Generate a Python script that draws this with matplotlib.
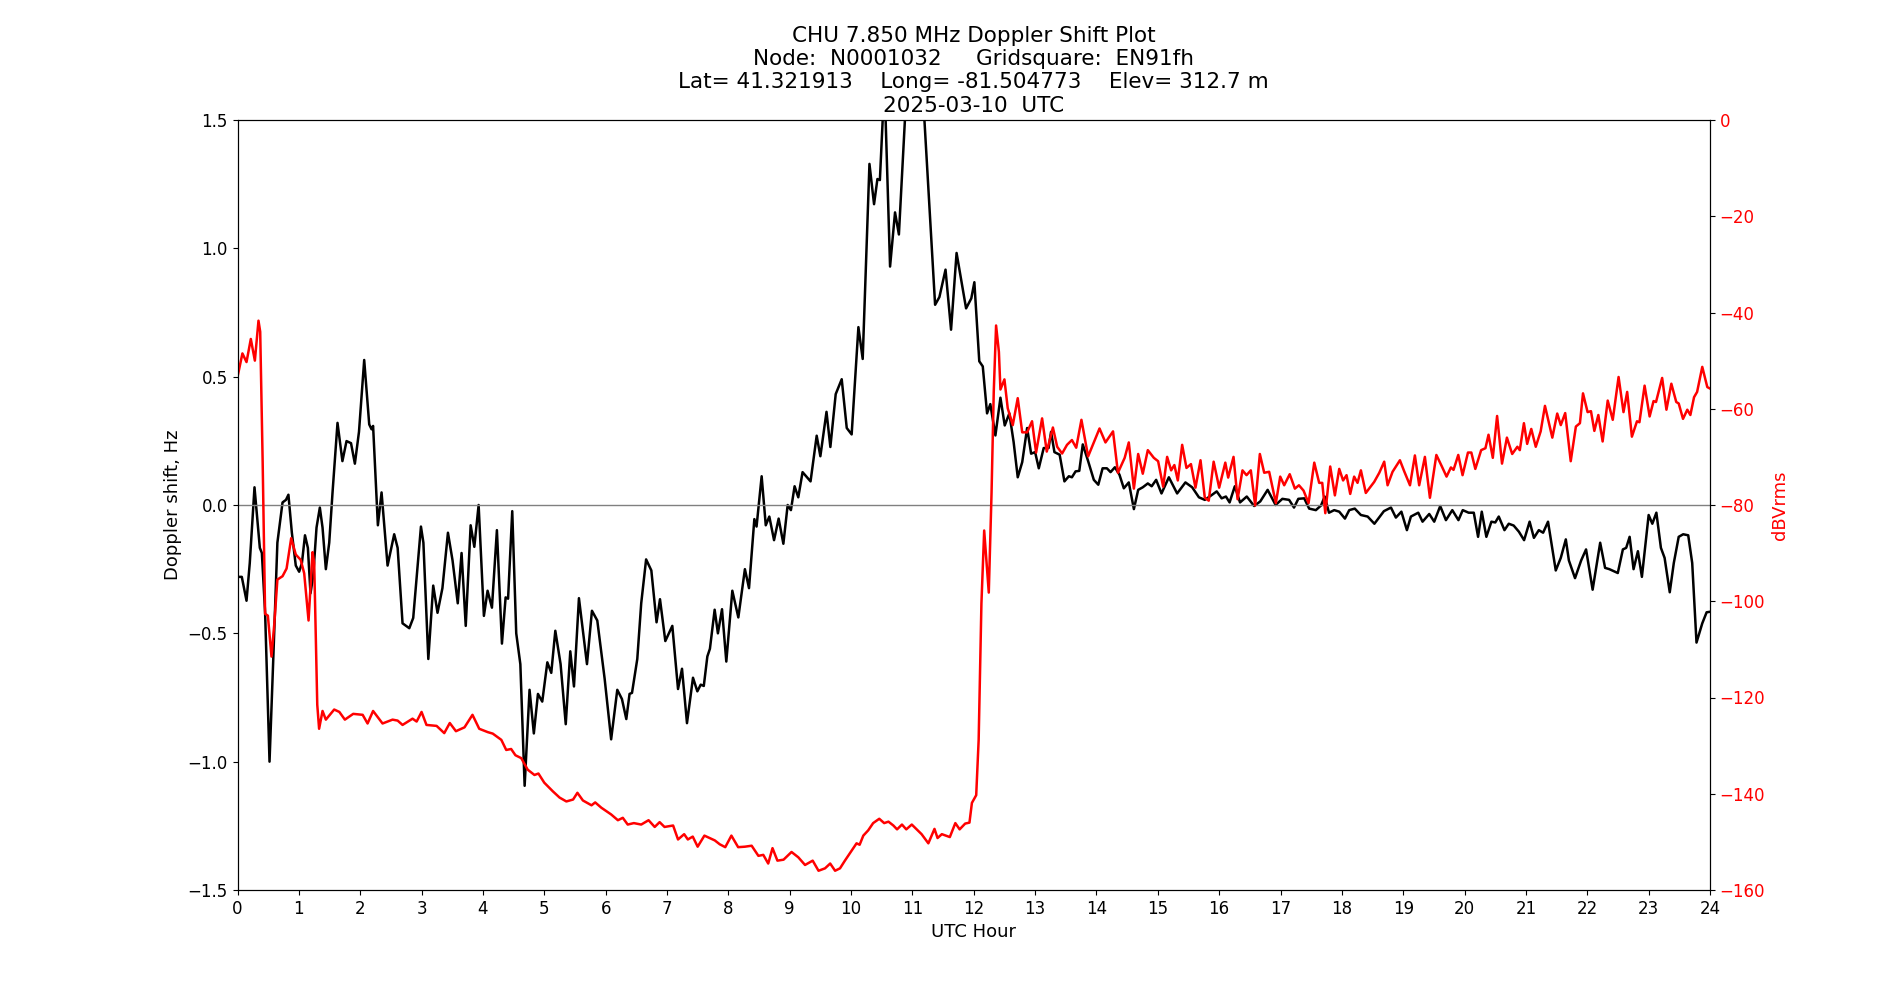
import matplotlib
matplotlib.use('Agg')
import matplotlib.pyplot as plt

# Doppler shift (black), hours UTC and Hz
doppler_hours = [0, 0.07, 0.147, 0.2, 0.277, 0.364, 0.397, 0.45, 0.522, 0.58, 0.65, 0.734, 0.79, 0.83, 0.886, 0.95,
                 1.005, 1.05, 1.10, 1.147, 1.19, 1.234, 1.288, 1.342, 1.386, 1.44, 1.495, 1.549, 1.63, 1.71, 1.777, 1.85,
                 1.913, 1.98, 2.065, 2.147, 2.185, 2.21, 2.288, 2.348, 2.446, 2.554, 2.61, 2.69, 2.80, 2.864, 2.99, 3.03,
                 3.11, 3.19, 3.26, 3.34, 3.43, 3.505, 3.59, 3.652, 3.72, 3.80, 3.86, 3.93, 4.016, 4.076, 4.147, 4.228,
                 4.31, 4.37, 4.41, 4.478, 4.543, 4.61, 4.68, 4.76, 4.83, 4.897, 4.967, 5.05, 5.114, 5.18, 5.266, 5.35,
                 5.424, 5.484, 5.565, 5.696, 5.777, 5.864, 5.984, 6.09, 6.19, 6.266, 6.337, 6.39, 6.43, 6.516, 6.58, 6.66,
                 6.745, 6.83, 6.886, 6.973, 7.087, 7.18, 7.245, 7.326, 7.424, 7.495, 7.55, 7.6, 7.658, 7.7, 7.777, 7.83,
                 7.897, 7.967, 8.065, 8.163, 8.27, 8.337, 8.424, 8.46, 8.543, 8.61, 8.668, 8.745, 8.82, 8.897, 8.967, 9.02,
                 9.08, 9.14, 9.21, 9.34, 9.44, 9.5, 9.6, 9.663, 9.75, 9.848, 9.93, 10.01, 10.12, 10.19, 10.3, 10.375,
                 10.43, 10.47, 10.545, 10.636, 10.717, 10.78, 10.9, 11.0, 11.1, 11.196, 11.37, 11.44, 11.54, 11.63, 11.72,
                 11.875, 11.96, 12.01, 12.09, 12.147, 12.217, 12.27, 12.353, 12.435, 12.505, 12.58, 12.65, 12.717, 12.79,
                 12.87, 12.935, 13.0, 13.06, 13.14, 13.22, 13.26, 13.315, 13.4, 13.478, 13.55, 13.6, 13.66, 13.72, 13.777,
                 13.864, 13.957, 14.03, 14.1, 14.17, 14.23, 14.3, 14.375, 14.446, 14.527, 14.61, 14.68, 14.755, 14.837,
                 14.9, 14.973, 15.06, 15.18, 15.315, 15.45, 15.56, 15.67, 15.766, 15.886, 15.96, 16.04, 16.11, 16.17,
                 16.255, 16.34, 16.45, 16.57, 16.67, 16.79, 16.92, 17.03, 17.14, 17.22, 17.29, 17.386, 17.467, 17.576,
                 17.66, 17.72, 17.79, 17.875, 17.957, 18.05, 18.12, 18.21, 18.31, 18.42, 18.53, 18.685, 18.8, 18.88,
                 18.97, 19.06, 19.125, 19.245, 19.315, 19.424, 19.505, 19.603, 19.696, 19.8, 19.9, 19.97, 20.066, 20.15,
                 20.22, 20.28, 20.355, 20.437, 20.5, 20.557, 20.65, 20.72, 20.8, 20.885, 20.97, 21.06, 21.13, 21.21, 21.28,
                 21.36, 21.486, 21.568, 21.65, 21.7, 21.8, 21.9, 21.98, 22.087, 22.21, 22.29, 22.36, 22.497, 22.58, 22.634,
                 22.69, 22.754, 22.825, 22.89, 23.0, 23.06, 23.126, 23.2, 23.26, 23.344, 23.41, 23.49, 23.563, 23.645,
                 23.71, 23.78, 23.874, 23.945, 24.0]
doppler_hz = [-0.28, -0.28, -0.373, -0.226, 0.069, -0.167, -0.187, -0.42, -1.0, -0.62, -0.147, 0.01, 0.02, 0.04, -0.108,
              -0.236, -0.26, -0.226, -0.118, -0.167, -0.344, -0.275, -0.088, -0.01, -0.088, -0.25, -0.147, 0.049, 0.32,
              0.171, 0.249, 0.241, 0.161, 0.285, 0.565, 0.314, 0.295, 0.308, -0.079, 0.049, -0.236, -0.114, -0.167,
              -0.461, -0.48, -0.44, -0.084, -0.147, -0.6, -0.314, -0.42, -0.324, -0.108, -0.216, -0.383, -0.187, -0.471,
              -0.079, -0.163, 0.0, -0.432, -0.334, -0.4, -0.098, -0.54, -0.36, -0.365, -0.024, -0.5, -0.62, -1.094,
              -0.72, -0.89, -0.736, -0.766, -0.613, -0.654, -0.49, -0.62, -0.854, -0.57, -0.707, -0.363, -0.62, -0.412,
              -0.45, -0.677, -0.913, -0.72, -0.756, -0.834, -0.736, -0.732, -0.6, -0.383, -0.212, -0.255, -0.457,
              -0.367, -0.53, -0.471, -0.717, -0.638, -0.85, -0.673, -0.726, -0.7, -0.705, -0.59, -0.56, -0.408, -0.5,
              -0.406, -0.61, -0.334, -0.438, -0.25, -0.324, -0.055, -0.084, 0.112, -0.079, -0.045, -0.137, -0.053,
              -0.151, 0.0, -0.02, 0.073, 0.03, 0.128, 0.092, 0.27, 0.19, 0.363, 0.226, 0.432, 0.49, 0.3, 0.275, 0.693,
              0.569, 1.329, 1.172, 1.27, 1.266, 1.65, 0.929, 1.14, 1.054, 1.6, 1.75, 1.7, 1.5, 0.78, 0.81, 0.917,
              0.683, 0.982, 0.766, 0.805, 0.868, 0.56, 0.54, 0.357, 0.393, 0.271, 0.418, 0.31, 0.357, 0.245, 0.108,
              0.167, 0.3, 0.2, 0.206, 0.143, 0.222, 0.222, 0.285, 0.206, 0.196, 0.092, 0.112, 0.108, 0.131, 0.133,
              0.236, 0.171, 0.098, 0.079, 0.143, 0.143, 0.128, 0.147, 0.118, 0.065, 0.088, -0.016, 0.059, 0.069,
              0.084, 0.073, 0.098, 0.045, 0.108, 0.045, 0.088, 0.069, 0.03, 0.02, 0.04, 0.053, 0.026, 0.033, 0.01,
              0.073, 0.01, 0.033, -0.004, 0.014, 0.059, 0.0, 0.024, 0.02, -0.01, 0.024, 0.026, -0.014, -0.02, -0.002,
              0.033, -0.03, -0.02, -0.026, -0.053, -0.02, -0.014, -0.039, -0.045, -0.073, -0.024, -0.01, -0.049,
              -0.026, -0.098, -0.045, -0.03, -0.065, -0.035, -0.065, -0.004, -0.059, -0.02, -0.059, -0.02, -0.03,
              -0.03, -0.124, -0.026, -0.124, -0.065, -0.068, -0.045, -0.098, -0.073, -0.08, -0.104, -0.137, -0.065,
              -0.128, -0.098, -0.108, -0.065, -0.255, -0.206, -0.134, -0.216, -0.285, -0.216, -0.173, -0.33, -0.147,
              -0.245, -0.25, -0.265, -0.173, -0.167, -0.124, -0.25, -0.18, -0.28, -0.039, -0.073, -0.03, -0.167,
              -0.206, -0.34, -0.226, -0.124, -0.114, -0.118, -0.226, -0.536, -0.461, -0.418, -0.416]

# Signal level (red), hours UTC and dBVrms
power_hours = [0, 0.08, 0.147, 0.217, 0.283, 0.342, 0.37, 0.41, 0.45, 0.495, 0.554, 0.6, 0.65, 0.734, 0.8, 0.875, 0.95,
               1.03, 1.087, 1.158, 1.223, 1.25, 1.277, 1.3, 1.33, 1.386, 1.44, 1.576, 1.66, 1.75, 1.886, 2.04, 2.12,
               2.21, 2.364, 2.527, 2.61, 2.69, 2.853, 2.92, 3.0, 3.08, 3.245, 3.37, 3.46, 3.56, 3.7, 3.83, 3.94, 4.08,
               4.16, 4.3, 4.38, 4.46, 4.53, 4.625, 4.73, 4.84, 4.905, 5.0, 5.14, 5.25, 5.36, 5.47, 5.54, 5.63, 5.77,
               5.83, 5.93, 6.09, 6.2, 6.28, 6.36, 6.46, 6.58, 6.7, 6.8, 6.88, 6.96, 7.1, 7.18, 7.28, 7.34, 7.42, 7.5,
               7.61, 7.78, 7.86, 7.95, 8.05, 8.16, 8.27, 8.38, 8.49, 8.57, 8.65, 8.72, 8.8, 8.9, 9.03, 9.14, 9.25,
               9.375, 9.47, 9.576, 9.66, 9.74, 9.82, 9.9, 9.98, 10.04, 10.09, 10.14, 10.2, 10.28, 10.36, 10.46, 10.54,
               10.61, 10.69, 10.75, 10.83, 10.9, 10.99, 11.07, 11.15, 11.26, 11.36, 11.41, 11.48, 11.61, 11.7, 11.77,
               11.86, 11.93, 11.97, 12.04, 12.08, 12.125, 12.17, 12.245, 12.29, 12.326, 12.364, 12.41, 12.435, 12.5,
               12.554, 12.636, 12.717, 12.79, 12.87, 12.95, 13.016, 13.114, 13.19, 13.29, 13.36, 13.44, 13.52, 13.6,
               13.67, 13.755, 13.864, 13.957, 14.05, 14.147, 14.27, 14.35, 14.46, 14.527, 14.61, 14.68, 14.755, 14.837,
               14.935, 15.005, 15.087, 15.152, 15.217, 15.27, 15.326, 15.397, 15.467, 15.54, 15.614, 15.696, 15.766,
               15.83, 15.91, 16.0, 16.1, 16.147, 16.234, 16.3, 16.38, 16.446, 16.516, 16.587, 16.663, 16.734, 16.815,
               16.924, 16.995, 17.06, 17.15, 17.234, 17.3, 17.375, 17.457, 17.55, 17.63, 17.68, 17.73, 17.81, 17.886,
               17.957, 18.02, 18.076, 18.136, 18.2, 18.255, 18.31, 18.39, 18.527, 18.61, 18.69, 18.745, 18.826, 18.946,
               19.016, 19.11, 19.19, 19.26, 19.353, 19.435, 19.54, 19.63, 19.706, 19.777, 19.82, 19.897, 19.967,
               20.055, 20.11, 20.175, 20.27, 20.34, 20.39, 20.46, 20.53, 20.61, 20.69, 20.776, 20.86, 20.9, 20.967,
               21.02, 21.087, 21.16, 21.24, 21.31, 21.43, 21.51, 21.568, 21.64, 21.73, 21.814, 21.88, 21.93, 22.005,
               22.06, 22.115, 22.18, 22.25, 22.333, 22.415, 22.51, 22.59, 22.65, 22.727, 22.81, 22.85, 22.934, 23.016,
               23.08, 23.12, 23.22, 23.29, 23.37, 23.45, 23.49, 23.56, 23.63, 23.68, 23.74, 23.79, 23.874, 23.956, 24.0]
power_dbv = [-53.4, -48.5, -50.3, -45.5, -50, -41.7, -44, -71, -102.6, -103, -111.5, -104.7, -95.5, -94.8, -93.2,
             -86.9, -90.3, -91.4, -94.2, -104, -89.8, -92, -107.9, -121.5, -126.5, -122.8, -124.6, -122.5, -123,
             -124.6, -123.4, -123.6, -125.4, -122.8, -125.4, -124.6, -124.8, -125.7, -124.4, -125, -123, -125.7,
             -125.9, -127.4, -125.3, -127, -126.2, -123.6, -126.5, -127.2, -127.5, -128.8, -130.9, -130.7, -132,
             -132.6, -135, -136.1, -135.8, -137.7, -139.5, -140.8, -141.6, -141.2, -139.8, -141.4, -142.4, -141.8,
             -142.9, -144.3, -145.5, -145, -146.4, -146.1, -146.4, -145.5, -146.9, -145.9, -146.9, -146.6, -149.5,
             -148.4, -149.5, -148.9, -151, -148.7, -149.7, -150.5, -151.1, -148.7, -151.1, -151, -150.8, -152.9,
             -152.7, -154.5, -151.3, -153.9, -153.7, -152.1, -153.2, -154.8, -153.9, -156, -155.5, -154.5, -156,
             -155.5, -153.9, -152.4, -151.3, -150.3, -150.6, -148.7, -147.6, -146.1, -145.2, -146.1, -145.8, -146.6,
             -147.4, -146.4, -147.4, -146.4, -147.4, -148.4, -150.3, -147.3, -149.2, -148.4, -149, -146.1, -147.4,
             -146.2, -146, -141.9, -140.3, -128.8, -100.5, -85.3, -98.2, -77.5, -56.5, -42.7, -48.2, -56, -53.9,
             -59.9, -63.4, -57.8, -64.9, -64.9, -62.6, -69.1, -62, -68.9, -63.9, -67.9, -69.3, -67.5, -66.5, -68.1,
             -62.3, -69.9, -67, -64.1, -67, -64.7, -73.3, -70.2, -67, -76.6, -69.4, -73.5, -68.6, -70.2, -70.9,
             -76.2, -70, -72.8, -71.7, -74.9, -67.5, -72.3, -71.5, -76.4, -70.7, -78.5, -79.1, -71, -76.4, -71.2,
             -74.3, -70, -78.8, -72.8, -73.8, -72.8, -80.1, -69.4, -73.3, -73.1, -79.6, -74.1, -75.9, -73.6, -76.6,
             -75.9, -77, -79.6, -71.2, -75.4, -75.4, -81.7, -72, -78, -72.5, -74.9, -73.8, -77.7, -74.1, -75.4,
             -72.8, -77.5, -75.2, -73.3, -71, -75.9, -73.1, -70.7, -73, -75.9, -69.7, -75.9, -70, -78.5, -69.6, -72,
             -74.1, -72.2, -72.7, -69.6, -73.8, -69.1, -69.1, -72.5, -68.6, -68.2, -65.4, -70.2, -61.5, -71.4, -66,
             -69.4, -67.9, -68.6, -63, -67.3, -64.2, -67.9, -64.7, -59.4, -66, -61, -63.4, -60.9, -70.9, -63.7, -63,
             -56.8, -60.7, -60.5, -64.6, -61.3, -66.8, -58.3, -62.3, -53.4, -60.7, -56.5, -65.8, -62.6, -62.8, -55.2,
             -61.6, -58.4, -58.6, -53.6, -60.2, -54.8, -58.6, -58.9, -62.1, -60.2, -61.3, -57.6, -56.5, -51.3, -55.5,
             -55.8]

hour_ticks = list(range(0, 25))

title_lines = ['CHU 7.850 MHz Doppler Shift Plot',
               'Node:  N0001032     Gridsquare:  EN91fh',
               'Lat= 41.321913    Long= -81.504773    Elev= 312.7 m',
               '2025-03-10  UTC']

plt.rcParams['font.size'] = 12

fig = plt.figure(figsize=(19, 10), dpi=100)
ax = fig.add_subplot(111)

ax.plot(doppler_hours, doppler_hz, color='black', linewidth=1.8)
ax.axhline(0, color='grey', linewidth=1)
ax.set_xlim(0, 24)
ax.set_ylim(-1.5, 1.5)
ax.set_xticks(hour_ticks)
ax.set_xlabel('UTC Hour', fontsize=13)
ax.set_ylabel('Doppler shift, Hz', fontsize=13)
ax.set_title('\n'.join(title_lines), fontsize=15.5)

ax2 = ax.twinx()
ax2.plot(power_hours, power_dbv, color='red', linewidth=1.8)
ax2.set_ylim(-160, 0)
ax2.set_ylabel('dBVrms', color='red', fontsize=13)
ax2.tick_params(axis='y', labelcolor='red')

fig.savefig('out.png', dpi=100)
